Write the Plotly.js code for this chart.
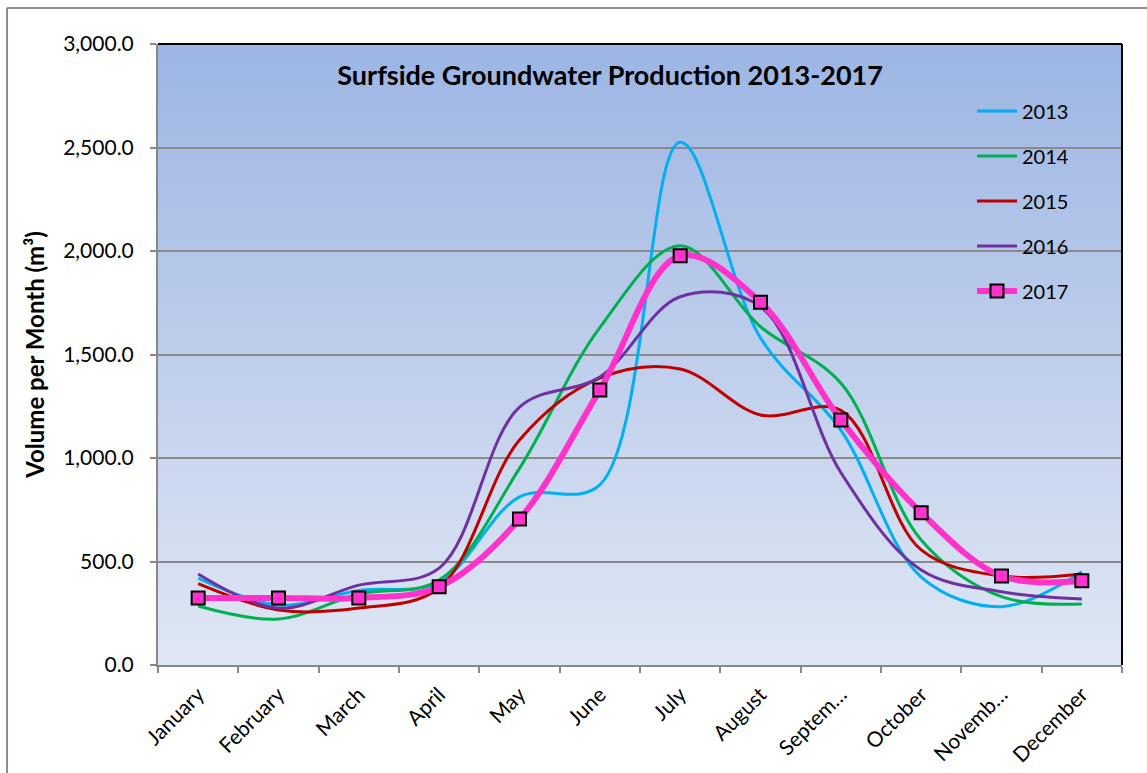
<!DOCTYPE html>
<html>
<head>
<meta charset="utf-8">
<script src="https://cdn.plot.ly/plotly-3.0.1.min.js"></script>
<style>
html,body{margin:0;padding:0;background:#fff;}
#chart{width:1147px;height:773px;}
</style>
</head>
<body>
<div id="chart"></div>
<script>
var months = ['January','February','March','April','May','June','July','August','September','October','November','December'];
var monthLabels = ['January','February','March','April','May','June','July','August','Septem…','October','Novemb…','December'];
var seriesNames = ['2013','2014','2015','2016','2017'];
var v2013 = [420, 290, 360, 400, 812, 870, 2525, 1580, 1135, 425, 282, 451];
var v2014 = [285, 222, 343, 410, 950, 1630, 2025, 1634, 1362, 604, 330, 295];
var v2015 = [393, 266, 275, 372, 1087, 1386, 1430, 1208, 1230, 556, 430, 440];
var v2016 = [440, 275, 386, 468, 1246, 1391, 1779, 1731, 930, 459, 354, 319];
var v2017 = [324, 324, 324, 378, 705, 1328, 1977, 1753, 1184, 736, 430, 407];
var yTicks = [0, 500, 1000, 1500, 2000, 2500, 3000];
var yTickLabels = ['0.0','500.0','1,000.0','1,500.0','2,000.0','2,500.0','3,000.0'];

var colors = ['#00b0f0','#00b050','#c00000','#7030a0','#ff33cc'];
var allVals = [v2013, v2014, v2015, v2016, v2017];

var FONT = 'Lato, "Open Sans", sans-serif';

var traces = allVals.map(function(vals, i){
  var t = {
    x: months, y: vals, name: seriesNames[i], type: 'scatter',
    legendgroup: 'g' + i,
    line: {color: colors[i], width: i === 4 ? 6 : 3, shape: 'spline', smoothing: 1},
    mode: 'lines'
  };
  if (i === 4) {
    t.mode = 'lines+markers';
    t.marker = {symbol: 'square', size: 13, color: '#ff33cc', line: {color: '#000000', width: 2}};
  }
  return t;
});

var grad = '<svg xmlns="http://www.w3.org/2000/svg" width="100" height="100" preserveAspectRatio="none">' +
  '<defs><linearGradient id="g" x1="0" y1="0" x2="0" y2="1">' +
  '<stop offset="0" stop-color="#9cb5e3"/><stop offset="1" stop-color="#e0e7f4"/></linearGradient></defs>' +
  '<rect width="100" height="100" fill="url(#g)"/></svg>';
var gradUrl = 'data:image/svg+xml;base64,' + btoa(grad);

var layout = {
  width: 1147, height: 773,
  margin: {l: 158, r: 25, t: 44, b: 108},
  paper_bgcolor: '#ffffff',
  plot_bgcolor: 'rgba(0,0,0,0)',
  font: {family: FONT, color: '#000'},
  showlegend: true,
  title: {
    text: '<b>Surfside Groundwater Production 2013-2017</b>',
    font: {family: FONT, size: 27, color: '#000'},
    x: 0.469, xref: 'paper', xanchor: 'center',
    y: 0.902, yref: 'container', yanchor: 'middle'
  },
  xaxis: {
    type: 'category',
    tickvals: months, ticktext: monthLabels,
    tickangle: -45,
    tickfont: {family: FONT, size: 21, color: '#000'},
    ticks: 'outside', ticklen: 6, tickwidth: 2, tickcolor: '#888888',
    tickson: 'boundaries',
    ticklabelstandoff: 7,
    showline: true, linecolor: '#888888', linewidth: 2,
    showgrid: false, zeroline: false,
    range: [-0.5, 11.5]
  },
  yaxis: {
    range: [0, 3000],
    tickvals: yTicks, ticktext: yTickLabels,
    tickfont: {family: FONT, size: 21, color: '#000'},
    ticks: 'outside', ticklen: 6, tickwidth: 2, tickcolor: '#888888',
    ticklabelstandoff: 12,
    showline: true, linecolor: '#888888', linewidth: 2,
    showgrid: true, gridcolor: '#8a8a8a', gridwidth: 2,
    zeroline: false,
    title: {text: '<b>Volume per Month (m³)</b>', font: {family: FONT, size: 24, color: '#000'}, standoff: 12}
  },
  legend: {
    x: 0.8444, y: 0.9236, xanchor: 'left', yanchor: 'top',
    bgcolor: 'rgba(0,0,0,0)',
    font: {family: FONT, size: 20, color: '#000'},
    traceorder: 'grouped', tracegroupgap: 16,
    itemwidth: 40
  },
  images: [{
    source: gradUrl, xref: 'paper', yref: 'paper',
    x: 0, y: 1, sizex: 1, sizey: 1, sizing: 'stretch',
    xanchor: 'left', yanchor: 'top', layer: 'below'
  }],
  shapes: [
    {type: 'line', xref: 'paper', yref: 'paper', x0: 0, x1: 1, y0: 1, y1: 1, line: {color: '#000', width: 2}},
    {type: 'line', xref: 'paper', yref: 'paper', x0: 1, x1: 1, y0: 0, y1: 1, line: {color: '#000', width: 2}},
    {type: 'line', xref: 'paper', yref: 'paper', x0: -0.1566, x1: 1.05, y0: 1.058, y1: 1.058, line: {color: '#8c8c8c', width: 2}},
    {type: 'line', xref: 'paper', yref: 'paper', x0: -0.1566, x1: -0.1566, y0: -0.2, y1: 1.058, line: {color: '#8c8c8c', width: 2}}
  ]
};

Plotly.newPlot('chart', traces, layout, {displayModeBar: false, staticPlot: true});
</script>
</body>
</html>
